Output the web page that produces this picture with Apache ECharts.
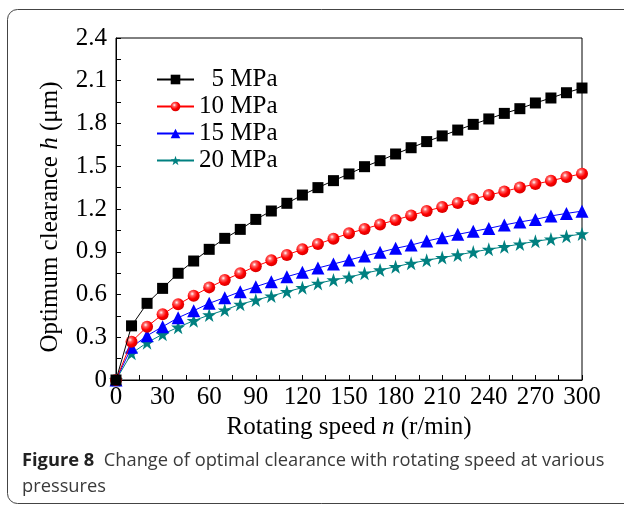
<!DOCTYPE html>
<html><head><meta charset="utf-8">
<script src="https://cdn.jsdelivr.net/npm/echarts@6/dist/echarts.min.js"></script>
<style>html,body{margin:0;padding:0;background:#fff}#c{width:624px;height:508px}</style>
</head><body><div id="c"></div>
<script>
const speeds = [0,10,20,30,40,50,60,70,80,90,100,110,120,130,140,150,160,170,180,190,200,210,220,230,240,250,260,270,280,290,300];
const seriesNames = ['  5 MPa','10 MPa','15 MPa','20 MPa'];
const h5  = [0,0.38,0.538,0.643,0.749,0.835,0.917,0.994,1.057,1.127,1.186,1.240,1.298,1.350,1.399,1.446,1.497,1.539,1.586,1.630,1.673,1.713,1.754,1.794,1.832,1.871,1.904,1.944,1.979,2.016,2.049];
const h10 = [0,0.269,0.374,0.461,0.531,0.592,0.650,0.702,0.749,0.798,0.840,0.878,0.917,0.954,0.992,1.029,1.060,1.092,1.123,1.155,1.186,1.214,1.242,1.270,1.298,1.323,1.351,1.375,1.398,1.424,1.448];
const h15 = [0,0.229,0.311,0.374,0.437,0.486,0.538,0.578,0.620,0.655,0.690,0.725,0.756,0.786,0.814,0.842,0.870,0.896,0.924,0.947,0.975,0.999,1.022,1.043,1.064,1.088,1.109,1.127,1.151,1.169,1.185];
const h20 = [0,0.187,0.262,0.321,0.370,0.416,0.456,0.491,0.531,0.561,0.589,0.620,0.648,0.678,0.702,0.721,0.749,0.772,0.795,0.819,0.840,0.859,0.877,0.898,0.917,0.935,0.954,0.973,0.989,1.008,1.025];
const yTicks = {min:0, max:2.4, step:0.3};
const xTicks = {min:0, max:300, step:30};
const xTitle = ['Rotating speed ','n',' (r/min)'];
const yTitle = ['Optimum clearance ','h',' (μm)'];
const captionBold = 'Figure 8';
const captionText = '  Change of optimal clearance with rotating speed at various';
const captionText2 = 'pressures';

const star = 'path://M50,0 L61.8,35.4 L99,35.4 L69,57.3 L80.3,92.7 L50,70.8 L19.7,92.7 L31,57.3 L1,35.4 L38.2,35.4 Z';
function pairs(arr){ return speeds.map((s,i)=>[s,arr[i]]); }
const redGrad = {type:'radial',x:0.38,y:0.35,r:0.7,colorStops:[{offset:0,color:'#ffffff'},{offset:0.25,color:'#ff6060'},{offset:0.6,color:'#ff0000'},{offset:1,color:'#d00000'}]};
const styles = [
  {symbol:'rect', size:11, color:'#000000', line:'#000000'},
  {symbol:'circle', size:12, color:redGrad, line:'#ff0000'},
  {symbol:'triangle', size:13, color:'#0000ff', line:'#0000ff'},
  {symbol:star, size:14, color:'#008080', line:'#008080'}
];
const datas = [h5,h10,h15,h20];
const serif = '"Liberation Serif","Times New Roman",serif';
const sans = '"Open Sans","Noto Sans",sans-serif';
const FS = 25;
const richT = {a:{fontFamily:serif,fontSize:FS,color:'#000'},i:{fontFamily:serif,fontSize:FS,fontStyle:'italic',color:'#000'}};

const chart = echarts.init(document.getElementById('c'));
chart.setOption({
  animation:false,
  backgroundColor:'#fff',
  grid:{left:116, top:38, width:466, height:342, show:true, borderColor:'#000', borderWidth:1},
  legend:{
    orient:'vertical', left:156, top:67, padding:0,
    itemWidth:37, itemHeight:12, itemGap:2,
    textStyle:{fontFamily:serif, fontSize:FS, color:'#000', lineHeight:25},
    data: seriesNames
  },
  xAxis:{
    type:'value', min:xTicks.min, max:xTicks.max, interval:xTicks.step,
    name:'{a|'+xTitle[0]+'}{i|'+xTitle[1]+'}{a|'+xTitle[2]+'}', nameLocation:'middle', nameGap:34,
    nameTextStyle:{rich:richT},
    axisLine:{lineStyle:{color:'#000',width:1}},
    axisTick:{inside:true,length:5,lineStyle:{color:'#000'}},
    minorTick:{show:true,splitNumber:2,length:5,lineStyle:{color:'#000'}},
    splitLine:{show:false},
    axisLabel:{fontFamily:serif,fontSize:FS,color:'#000',margin:5}
  },
  yAxis:{
    type:'value', min:yTicks.min, max:yTicks.max, interval:yTicks.step,
    axisLine:{show:true,lineStyle:{color:'#000',width:1}},
    axisTick:{show:true,inside:true,length:5,lineStyle:{color:'#000'}},
    minorTick:{show:true,splitNumber:2,length:5,lineStyle:{color:'#000'}},
    splitLine:{show:false},
    axisLabel:{fontFamily:serif,fontSize:FS,color:'#000',margin:9,
      formatter:v=> v===0?'0':v.toFixed(1)}
  },
  graphic:[
    {type:'rect', shape:{x:7.5,y:9.5,width:650,height:494,r:10}, style:{fill:null,stroke:'#444',lineWidth:1}, silent:true, z:-1},
    {type:'text', x:50, y:217, rotation:Math.PI/2,
      style:{text:'{a|'+yTitle[0]+'}{i|'+yTitle[1]+'}{a|'+yTitle[2]+'}', rich:richT, align:'center', verticalAlign:'middle'}},
    {type:'text', left:22, top:452, style:{text:'{b|'+captionBold+'}{n|'+captionText+'}', rich:{b:{fontFamily:sans,fontSize:18.3,fontWeight:'bold',fill:'#222'},n:{fontFamily:sans,fontSize:18.3,fill:'#3a3a3a'}}}},
    {type:'text', left:22, top:478, style:{text:captionText2, fontFamily:sans, fontSize:18.3, fill:'#3a3a3a'}}
  ],
  series: datas.map((d,i)=>({
    name:seriesNames[i], type:'line', data:pairs(d),
    symbol:styles[i].symbol, symbolSize:styles[i].size, showSymbol:true,
    itemStyle:{color:styles[i].color},
    lineStyle:{color:styles[i].line,width:1},
    z: 10-i
  }))
});
</script></body></html>
